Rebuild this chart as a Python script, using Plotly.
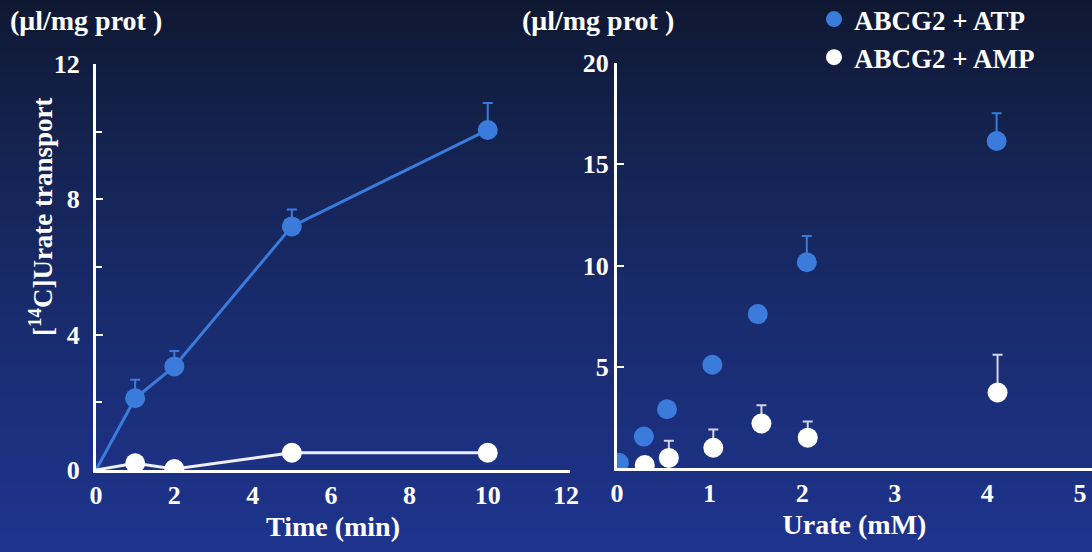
import plotly.graph_objects as go

# ---- data: left panel (time course) ----
time_min = [0, 1, 2, 5, 10]
atp_time = [0, 2.12, 3.06, 7.2, 10.05]
atp_time_err = [0, 0.55, 0.46, 0.5, 0.8]
amp_time = [0, 0.2, 0.03, 0.51, 0.51]

# ---- data: right panel (concentration dependence) ----
urate_atp = [0.02, 0.29, 0.54, 1.03, 1.52, 2.05, 4.1]
atp_conc = [0.26, 1.55, 2.9, 5.1, 7.6, 10.16, 16.15]
atp_conc_err = [0, 0, 0, 0, 0, 1.3, 1.37]
urate_amp = [0.30, 0.56, 1.04, 1.56, 2.06, 4.11]
amp_conc = [0.15, 0.5, 1.0, 2.2, 1.5, 3.73]
amp_conc_err = [0, 0.84, 0.9, 0.9, 0.8, 1.86]

left_x_ticks = [0, 2, 4, 6, 8, 10, 12]
left_y_ticks = [0, 4, 8, 12]
right_x_ticks = [0, 1, 2, 3, 4, 5]
right_y_ticks = [5, 10, 15, 20]

BLUE = "#3b7bdc"
WHITE = "#ffffff"
FONT = "Liberation Serif"
W, H = 1092, 552

# hide the marker at the origin of the time course (line starts there)
time_marker_sizes = [0 if t == 0 else 20 for t in time_min]

fig = go.Figure()

# left panel
fig.add_trace(go.Scatter(
    x=time_min, y=atp_time, mode="lines+markers", name="ABCG2 + ATP",
    line=dict(color=BLUE, width=3),
    marker=dict(color=BLUE, size=time_marker_sizes, opacity=1, line=dict(width=0)),
    error_y=dict(type="data", array=atp_time_err, arrayminus=[0]*len(atp_time_err),
                 symmetric=False, color=BLUE, thickness=2, width=5),
    xaxis="x", yaxis="y", showlegend=False))
fig.add_trace(go.Scatter(
    x=time_min, y=amp_time, mode="lines+markers", name="ABCG2 + AMP",
    line=dict(color="rgba(255,255,255,0.92)", width=3),
    marker=dict(color=WHITE, size=time_marker_sizes, opacity=1, line=dict(width=0)),
    xaxis="x", yaxis="y", showlegend=False))

# right panel
fig.add_trace(go.Scatter(
    x=urate_atp, y=atp_conc, mode="markers", name="ABCG2 + ATP",
    marker=dict(color=BLUE, size=20, line=dict(width=0)),
    error_y=dict(type="data", array=atp_conc_err, arrayminus=[0]*len(atp_conc_err),
                 symmetric=False, color=BLUE, thickness=2, width=5),
    xaxis="x2", yaxis="y2", showlegend=True))
fig.add_trace(go.Scatter(
    x=urate_amp, y=amp_conc, mode="markers", name="ABCG2 + AMP",
    marker=dict(color=WHITE, size=20, line=dict(width=0)),
    error_y=dict(type="data", array=amp_conc_err, arrayminus=[0]*len(amp_conc_err),
                 symmetric=False, color="#d0d4e4", thickness=2, width=5),
    xaxis="x2", yaxis="y2", showlegend=True))

# background gradient (dark navy at top -> royal blue at bottom)
stops = [(0.0, (15, 24, 50)), (0.3, (21, 36, 84)), (0.6, (25, 44, 112)), (1.0, (30, 52, 142))]
def col(t):
    for (t0, c0), (t1, c1) in zip(stops[:-1], stops[1:]):
        if t0 <= t <= t1:
            f = (t - t0) / (t1 - t0)
            return "rgb(%d,%d,%d)" % tuple(round(a + (b - a) * f) for a, b in zip(c0, c1))
    return "rgb(%d,%d,%d)" % stops[-1][1]
N = 80
shapes = []
for i in range(N):
    t = (i + 0.5) / N
    shapes.append(dict(type="rect", xref="paper", yref="paper", x0=-0.01, x1=1.01,
                       y0=1 - (i + 1) / N - 0.002, y1=1 - i / N + 0.002,
                       fillcolor=col(t), line=dict(width=0), layer="below"))

tickfont = dict(family=FONT, size=26, color="white", weight="bold")
titlefont = dict(family=FONT, size=28, color="white", weight="bold")
axis_common = dict(showgrid=False, zeroline=False, showline=True, linecolor="white",
                   linewidth=3, tickfont=tickfont, color="white", fixedrange=True,
                   automargin=False)

fig.update_layout(
    width=W, height=H, margin=dict(l=0, r=0, t=0, b=0, pad=0, autoexpand=False),
    autosize=False,
    paper_bgcolor="rgb(22,38,88)", plot_bgcolor="rgba(0,0,0,0)",
    font=dict(family=FONT, color="white", size=26),
    shapes=shapes,
    xaxis=dict(domain=[96 / W, 570 / W], range=[0, 12.1], tickvals=left_x_ticks,
               ticks="", anchor="y", title=dict(text="Time (min)", standoff=8, font=titlefont),
               **axis_common),
    yaxis=dict(domain=[1 - 470 / H, 1 - 64 / H], range=[0, 12], tickvals=left_y_ticks,
               ticks="inside", ticklen=7, tickwidth=2, tickcolor="white",
               ticklabelstandoff=8,
               minor=dict(dtick=2, ticks="inside", ticklen=6, tickwidth=2, tickcolor="white"),
               anchor="x", **axis_common),
    xaxis2=dict(domain=[617 / W, 1.0], range=[0, 5.13], tickvals=right_x_ticks,
                ticks="", anchor="y2", title=dict(text="Urate (mM)", standoff=8, font=titlefont),
                **axis_common),
    yaxis2=dict(domain=[1 - 468 / H, 1 - 63 / H], range=[0, 20], tickvals=right_y_ticks,
                ticks="inside", ticklen=7, tickwidth=2, tickcolor="white",
                anchor="x2", **axis_common),
    legend=dict(x=814 / W, y=1 + 5 / H, xanchor="left", yanchor="top",
                bgcolor="rgba(0,0,0,0)",
                font=dict(family=FONT, size=27, color="white", weight="bold"),
                itemsizing="trace", tracegroupgap=0),
    annotations=[
        dict(text="(μl/mg prot )", xref="paper", yref="paper", x=8 / W, y=1 - 20 / H,
             xanchor="left", yanchor="middle", showarrow=False, font=titlefont),
        dict(text="(μl/mg prot )", xref="paper", yref="paper", x=520 / W, y=1 - 20 / H,
             xanchor="left", yanchor="middle", showarrow=False, font=titlefont),
        dict(text="[<sup>14</sup>C]Urate transport", xref="paper", yref="paper",
             x=41 / W, y=1 - 217 / H, textangle=-90, xanchor="center", yanchor="middle",
             showarrow=False, font=dict(family=FONT, size=27, color="white", weight="bold")),
    ],
)

fig.write_html("out.html", config={"displayModeBar": False},
               post_script="document.body.style.margin='0';document.body.style.overflow='hidden';")
